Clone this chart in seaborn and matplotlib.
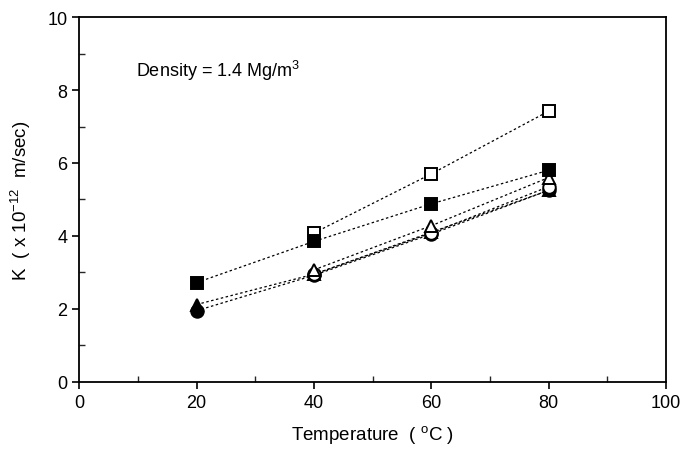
import matplotlib
matplotlib.use("Agg")
import matplotlib.pyplot as plt
import seaborn as sns
import pandas as pd
from matplotlib.ticker import MultipleLocator

temperature = [20, 40, 60, 80]
series_names = ["open square", "filled square", "open triangle",
                "filled triangle", "open circle", "filled circle"]
open_square = [None, 4.08, 5.70, 7.42]
filled_square = [2.72, 3.85, 4.88, 5.80]
open_triangle = [None, 3.07, 4.28, 5.60]
filled_triangle = [2.12, 2.95, 4.10, 5.25]
open_circle = [None, 2.95, 4.08, 5.35]
filled_circle = [1.95, 2.92, 4.05, 5.25]

values = [open_square, filled_square, open_triangle,
          filled_triangle, open_circle, filled_circle]
rows = []
for name, vals in zip(series_names, values):
    for t, v in zip(temperature, vals):
        if v is not None:
            rows.append({"T": t, "K": v, "series": name})
df = pd.DataFrame(rows)

sns.set_theme(style="ticks")
plt.rcParams['font.family'] = ['Liberation Sans', 'DejaVu Sans']
plt.rcParams['text.color'] = 'black'
plt.rcParams['axes.labelcolor'] = 'black'

fig = plt.figure(figsize=(6.83, 4.52), dpi=100)
ax = fig.add_axes([0.116, 0.153, 0.859, 0.807])

styles = {
    "open square": dict(marker="s", mfc="white"),
    "filled square": dict(marker="s", mfc="black"),
    "open triangle": dict(marker="^", mfc="white"),
    "filled triangle": dict(marker="^", mfc="black"),
    "open circle": dict(marker="o", mfc="white"),
    "filled circle": dict(marker="o", mfc="black"),
}
order = ["filled triangle", "filled circle", "open circle", "open triangle",
         "open square", "filled square"]
for name in order:
    sub = df[df["series"] == name]
    sns.lineplot(data=sub, x="T", y="K", ax=ax, color="black",
                 linestyle=(0, (2, 2)), linewidth=0.9, legend=False)
    ax.plot(sub["T"], sub["K"], linestyle="none", marker=styles[name]["marker"],
            markersize=9, markerfacecolor=styles[name]["mfc"],
            markeredgecolor="black", markeredgewidth=1.4, zorder=3)

ax.set_xlim(0, 100)
ax.set_ylim(0, 10)
ax.xaxis.set_major_locator(MultipleLocator(20))
ax.xaxis.set_minor_locator(MultipleLocator(10))
ax.yaxis.set_major_locator(MultipleLocator(2))
ax.yaxis.set_minor_locator(MultipleLocator(1))
ax.tick_params(which="major", direction="out", length=5, width=1.2,
               labelsize=13, colors="black")
ax.tick_params(which="minor", direction="in", length=4, width=1.0)
for s in ax.spines.values():
    s.set_linewidth(1.3)
    s.set_color("black")

ax.set_xlabel("Temperature  ( $\\mathregular{^{o}}$C )", fontsize=13.5, labelpad=9,
              color="black")
ax.set_ylabel("K  ( x 10$\\mathregular{^{-12}}$  m/sec)", fontsize=13.5, labelpad=10,
              color="black")
ax.text(0.097, 0.838, "Density = 1.4 Mg/m$\\mathregular{^{3}}$",
        transform=ax.transAxes, fontsize=13, color="black")

fig.savefig("out.png", dpi=100)
